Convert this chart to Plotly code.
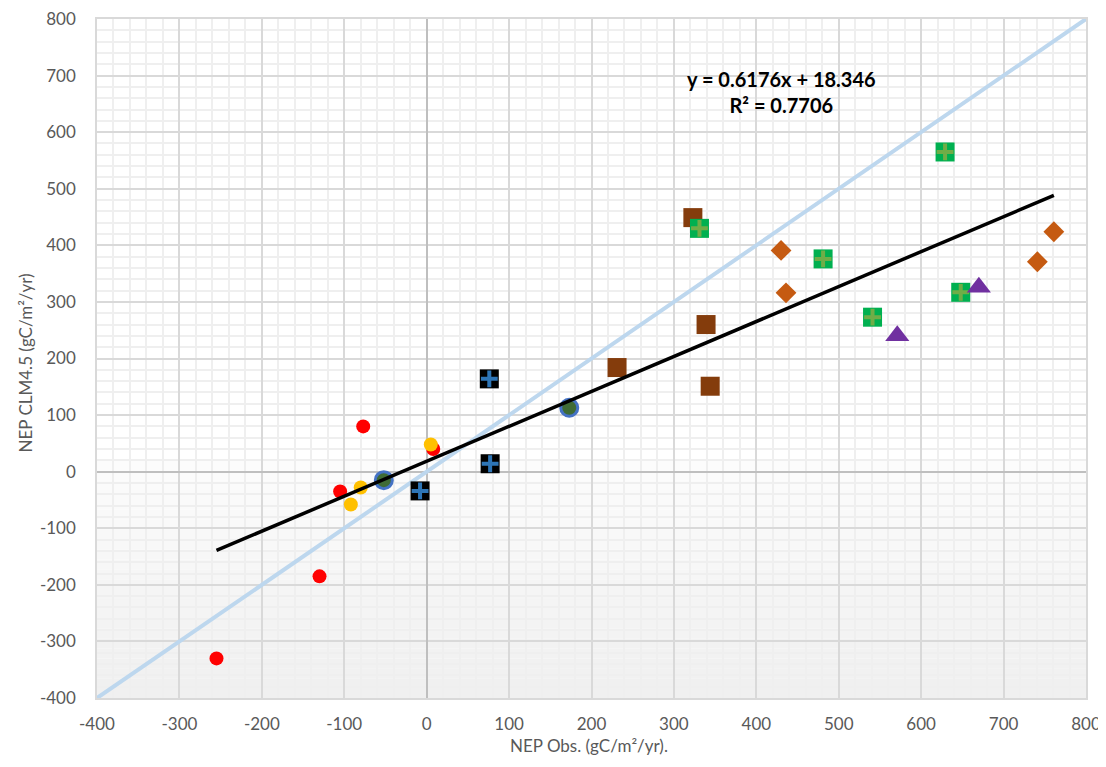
import plotly.graph_objects as go

# ---- data ----
red_x = [-77, -105, -130, -255, 8]
red_y = [80, -35, -185, -330, 40]
yellow_x = [5, -80, -92]
yellow_y = [48, -28, -58]
blue_x = [-52, 173]
blue_y = [-15, 113]
black_x = [76, 77, -8]
black_y = [164, 14, -34]
brown_x = [323, 339, 231, 344]
brown_y = [449, 260, 184, 151]
green_x = [331, 629, 481, 541, 648]
green_y = [430, 565, 376, 273, 317]
orange_x = [430, 436, 741, 761]
orange_y = [391, 316, 371, 424]
purple_x = [571, 670]
purple_y = [240, 326]

slope = 0.6176
intercept = 18.346
r2 = 0.7706
one_to_one = [-400, 800]
tick_vals = [-400, -300, -200, -100, 0, 100, 200, 300, 400, 500, 600, 700, 800]
tick_text = [str(v) for v in tick_vals]

all_x = red_x + yellow_x + blue_x + black_x + brown_x + green_x + orange_x + purple_x
trend_x = [min(all_x), max(all_x)]
trend_y = [slope * v + intercept for v in trend_x]

FONT = "Lato, Open Sans, sans-serif"
fig = go.Figure()

# 1:1 line
fig.add_trace(go.Scatter(x=one_to_one, y=one_to_one, mode="lines",
                         line=dict(color="#BDD7EE", width=4), hoverinfo="skip"))

def pts(x, y, symbol, color, size, lw=0, lc=None):
    fig.add_trace(go.Scatter(x=x, y=y, mode="markers",
                             marker=dict(symbol=symbol, color=color, size=size,
                                         line=dict(width=lw, color=lc or color))))

def plus(x, y, color):
    fig.add_trace(go.Scatter(x=x, y=y, mode="markers",
                             marker=dict(symbol="cross-thin", size=12,
                                         line=dict(width=4, color=color))))

pts(red_x, red_y, "circle", "#FF0000", 14)
pts(yellow_x, yellow_y, "circle", "#FFC000", 14)
pts(blue_x, blue_y, "circle", "#3F6B35", 17, 3, "#4472C4")
pts(black_x, black_y, "square", "#000000", 19)
plus(black_x, black_y, "#2E75B6")
pts(brown_x, brown_y, "square", "#843C0C", 19)
pts(green_x, green_y, "square", "#00B050", 19)
plus(green_x, green_y, "#70AD47")
pts(orange_x, orange_y, "diamond", "#C55A11", 16)
pts(purple_x, purple_y, "triangle-up", "#7030A0", 21)

# trendline
fig.add_trace(go.Scatter(x=trend_x, y=trend_y, mode="lines",
                         line=dict(color="#000000", width=3.5), hoverinfo="skip"))

# subtle gradient in the lower part of the plot area
shapes = []
nb = 24
top, bottom = 20, -400
for i in range(nb):
    y0 = top - (top - bottom) * i / nb
    y1 = top - (top - bottom) * (i + 1) / nb
    g = int(253 - 13 * (i + 1) / nb)
    shapes.append(dict(type="rect", xref="x", yref="y", x0=-400, x1=800,
                       y0=y1, y1=y0, line=dict(width=0),
                       fillcolor=f"rgb({g},{g},{g})", layer="below"))

axis_common = dict(
    showgrid=True, gridcolor="#D9D9D9", gridwidth=1.5,
    minor=dict(showgrid=True, gridcolor="#EFEFEF", gridwidth=1.5, dtick=20),
    zeroline=True, zerolinecolor="#BFBFBF", zerolinewidth=1.5,
    showline=True, linecolor="#D9D9D9", linewidth=1.5, mirror=True,
    tickfont=dict(family=FONT, size=17, color="#595959"),
    ticks="", tickmode="array", tickvals=tick_vals, ticktext=tick_text,
    automargin=False, range=[-400, 800], ticklabeloverflow="allow",
)

# page body has an 8px margin: figure sized/margined to land plot area at the reference spot
fig.update_layout(
    width=1098, height=759,
    margin=dict(l=89, r=20, t=11, b=69),
    paper_bgcolor="white", plot_bgcolor="white",
    showlegend=False,
    shapes=shapes,
    xaxis=dict(ticklabelstandoff=10, **axis_common),
    yaxis=dict(ticklabelstandoff=16, **axis_common),
    annotations=[
        dict(x=430, y=671, xref="x", yref="y", showarrow=False,
             text=f"<b>y = {slope}x + {intercept}<br>R² = {r2}</b>",
             align="center", font=dict(family=FONT, size=20, color="#000000")),
        dict(x=0.5, y=0, xref="paper", yref="paper", yshift=-47, xshift=-3,
             showarrow=False, text="NEP Obs. (gC/m²/yr).",
             yanchor="middle", xanchor="center",
             font=dict(family=FONT, size=17, color="#595959")),
        dict(x=0, y=0.5, xref="paper", yref="paper", xshift=-72, yshift=-5,
             showarrow=False, text="NEP CLM4.5 (gC/m²/yr)", textangle=-90,
             yanchor="middle", xanchor="center",
             font=dict(family=FONT, size=17, color="#595959")),
    ],
)

fig.write_html("out.html")
